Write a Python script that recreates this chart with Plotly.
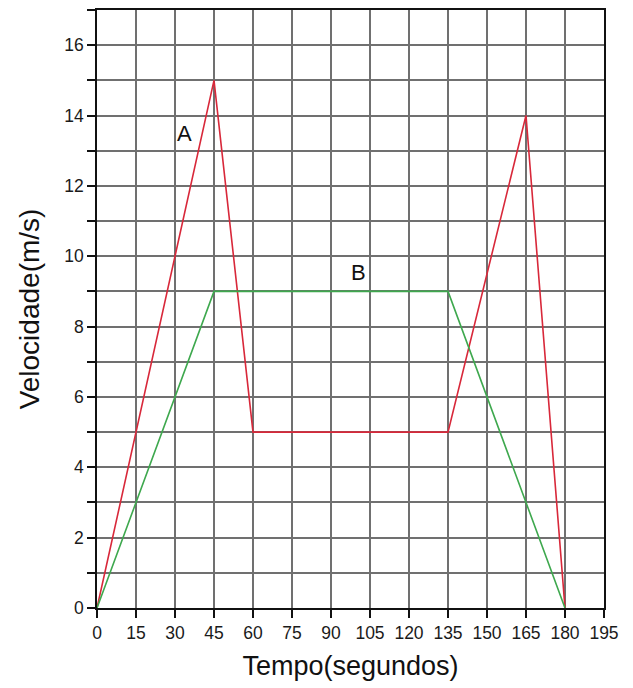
import plotly.graph_objects as go

time_a = [0, 45, 60, 135, 165, 180]
vel_a = [0, 15, 5, 5, 14, 0]
time_b = [0, 45, 135, 180]
vel_b = [0, 9, 9, 0]
x_ticks = list(range(0, 196, 15))
y_ticks = list(range(0, 17, 2))

fig = go.Figure()
fig.add_trace(go.Scatter(x=time_a, y=vel_a, mode="lines", line=dict(color="#d8283a", width=1.6), showlegend=False))
fig.add_trace(go.Scatter(x=time_b, y=vel_b, mode="lines", line=dict(color="#3ea84e", width=1.6), showlegend=False))

fig.add_annotation(x=33.8, y=13.5, text="A", showarrow=False, font=dict(size=22, color="#111", family="Liberation Sans"))
fig.add_annotation(x=100.5, y=9.55, text="B", showarrow=False, font=dict(size=22, color="#111", family="Liberation Sans"))

grid_col = "#707070"
fig.update_layout(
    width=633, height=688,
    margin=dict(l=89, r=37, t=2, b=88),
    plot_bgcolor="white", paper_bgcolor="white",
    font=dict(family="Liberation Sans", color="#111"),
    xaxis=dict(range=[0, 195], tickvals=x_ticks, ticks="outside", ticklen=8, tickwidth=1.5, tickcolor="#111",
               showgrid=True, gridcolor=grid_col, gridwidth=2, showline=True, linecolor="#111", linewidth=1.5,
               mirror=True, zeroline=False, tickfont=dict(size=17.5, color="#1a1a1a"), automargin=False,
               title=dict(text="Tempo(segundos)", font=dict(size=27), standoff=14)),
    yaxis=dict(range=[0, 17], tickvals=y_ticks, ticks="outside", ticklen=8, tickwidth=1.5, tickcolor="#111",
               showgrid=True, gridcolor=grid_col, gridwidth=2, showline=True, linecolor="#111", linewidth=1.5,
               mirror=True, zeroline=False, tickfont=dict(size=17.5, color="#1a1a1a"), automargin=False,
               minor=dict(dtick=1, tick0=0, ticks="outside", ticklen=8, tickwidth=1.5, tickcolor="#111",
                          showgrid=True, gridcolor=grid_col, gridwidth=2),
               title=dict(text="Velocidade(m/s)", font=dict(size=28), standoff=16)),
)

fig.write_html("out.html")
